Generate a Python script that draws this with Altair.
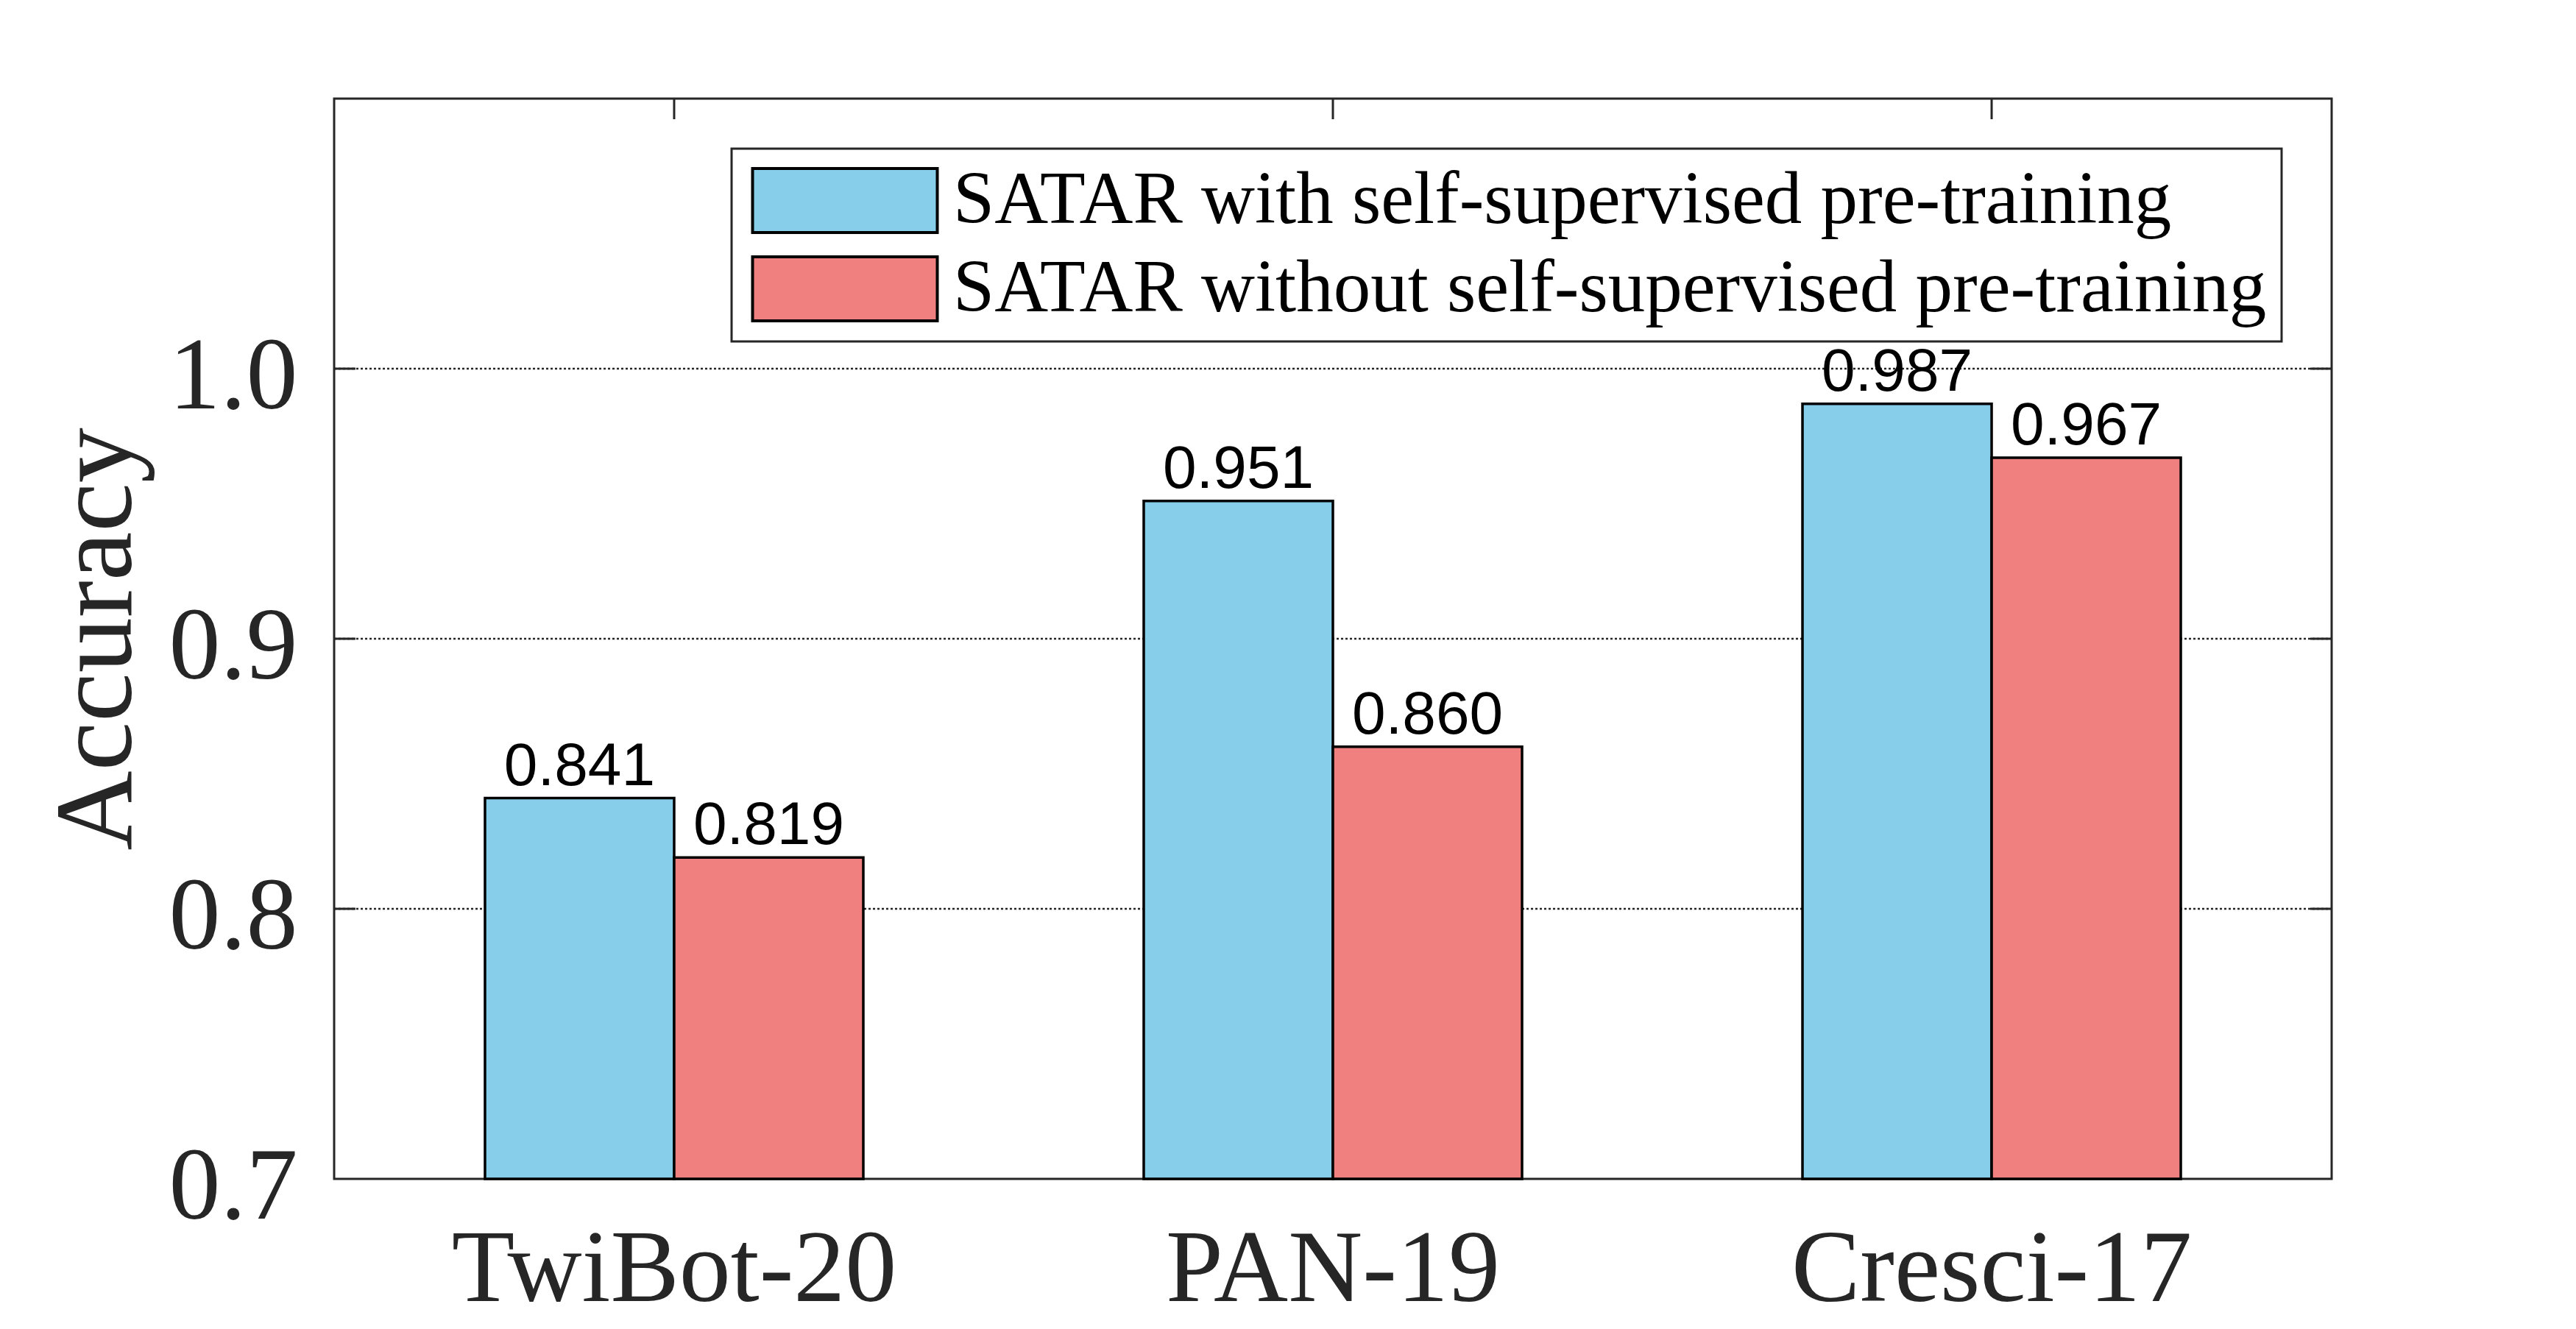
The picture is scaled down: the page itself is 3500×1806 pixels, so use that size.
import altair as alt
import pandas as pd

# ---- data ----
datasets = ["TwiBot-20", "PAN-19", "Cresci-17"]
methods = [
    "SATAR with self-supervised pre-training",
    "SATAR without self-supervised pre-training",
]
with_pretrain = [0.841, 0.951, 0.987]
without_pretrain = [0.819, 0.860, 0.967]
colors = ["#87CEEB", "#F08080"]
y_ticks = [0.7, 0.8, 0.9, 1.0]
grid_values = [0.8, 0.9, 1.0]

rows = []
for d, a, b in zip(datasets, with_pretrain, without_pretrain):
    rows.append({"dataset": d, "method": methods[0], "value": a})
    rows.append({"dataset": d, "method": methods[1], "value": b})
df = pd.DataFrame(rows)
grid_df = pd.DataFrame({"value": grid_values})
cat_df = pd.DataFrame({"dataset": datasets})

# ---- styling ----
W, H = 2714, 1468
SERIF = "Liberation Serif"
SANS = "Liberation Sans"
DARK = "#262626"
LEGEND_PATH = "M-0.9655,-1H4.8046V1H-0.9655Z"

x_axis = alt.Axis(
    title=None, labelFont=SERIF, labelFontSize=140, labelColor=DARK,
    labelPadding=54, labelBaseline="top", labelAngle=0, labelLimit=3000,
    labelOverlap=False,
    ticks=False, tickSize=0, domain=False, grid=False,
)
x_scale = alt.Scale(domain=datasets, paddingInner=0.4257, paddingOuter=0.229)
y_axis = alt.Axis(
    values=y_ticks, format=".1f", title="Accuracy",
    titleFont=SERIF, titleFontSize=150, titleFontWeight="normal", titleColor=DARK,
    titleAngle=270, titleBaseline="alphabetic", titleAlign="center",
    titleX=-277, titleY=H / 2, titleLimit=3000,
    labelFont=SERIF, labelFontSize=140, labelColor=DARK, labelPadding=50,
    labelBaseline="alphabetic", labelOffset=53, labelOverlap=False, labelFlush=False,
    labelLimit=3000,
    ticks=False, tickSize=0, domain=False, grid=False,
)
y_scale = alt.Scale(domain=[0.7, 1.1], nice=False, zero=False)

x_enc = alt.X("dataset:N", sort=datasets, scale=x_scale, axis=x_axis)
y_enc = alt.Y("value:Q", scale=y_scale, axis=y_axis)
xoff_enc = alt.XOffset("method:N", sort=methods,
                       scale=alt.Scale(domain=methods, paddingInner=0, paddingOuter=0))

grid = alt.Chart(grid_df).mark_rule(
    color=DARK, strokeWidth=2.5, strokeDash=[3, 3]
).encode(y=y_enc, x=alt.value(0), x2=alt.value(W))

yticks_left = alt.Chart(grid_df).mark_rule(color=DARK, strokeWidth=3).encode(
    y=y_enc, x=alt.value(0), x2=alt.value(29))
yticks_right = alt.Chart(grid_df).mark_rule(color=DARK, strokeWidth=3).encode(
    y=y_enc, x=alt.value(W - 29), x2=alt.value(W))
xticks_top = alt.Chart(cat_df).mark_rule(color=DARK, strokeWidth=3).encode(
    x=alt.X("dataset:N", sort=datasets, scale=x_scale, axis=x_axis, bandPosition=0.5),
    y=alt.value(0), y2=alt.value(28))

bars = alt.Chart(df).mark_bar(stroke="black", strokeWidth=3.5, opacity=1).encode(
    x=x_enc,
    xOffset=xoff_enc,
    y=y_enc,
    y2=alt.datum(0.7),
    color=alt.Color(
        "method:N", sort=methods,
        scale=alt.Scale(domain=methods, range=colors),
        legend=alt.Legend(
            title=None, orient="none", legendX=540, legendY=68, direction="vertical",
            symbolType=LEGEND_PATH, symbolSize=7569, symbolStrokeWidth=4,
            symbolStrokeColor="black", symbolOpacity=1,
            labelFont=SERIF, labelFontSize=101, labelColor="black",
            labelOffset=180, labelLimit=4000, labelBaseline="middle",
            padding=20, rowPadding=17, strokeColor=DARK, fillColor="white",
        ),
    ),
)

labels = alt.Chart(df).mark_text(
    font=SANS, fontSize=82, baseline="alphabetic", align="center", dy=-18, color="black"
).encode(
    x=x_enc, xOffset=xoff_enc, y=y_enc,
    text=alt.Text("value:Q", format=".3f"),
)

chart = alt.layer(grid, yticks_left, yticks_right, xticks_top, bars, labels).properties(
    width=W, height=H,
    autosize=alt.AutoSizeParams(type="none"),
    padding={"left": 446, "top": 126, "right": 300, "bottom": 196},
    background="white",
).configure_view(stroke=DARK, strokeWidth=3).configure_legend(strokeWidth=3)

chart.save("out.html", embed_options={"renderer": "svg", "actions": False})
